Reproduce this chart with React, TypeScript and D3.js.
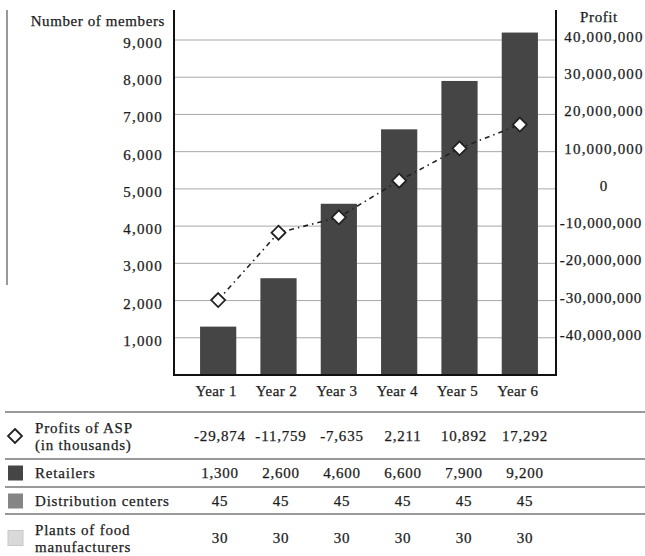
import * as d3 from "d3";

const years = ["Year 1", "Year 2", "Year 3", "Year 4", "Year 5", "Year 6"];
const retailers = [1300, 2600, 4600, 6600, 7900, 9200];
const profits = [-29874, -11759, -7635, 2211, 10892, 17292]; // thousands
const distCenters = [45, 45, 45, 45, 45, 45];
const plants = [30, 30, 30, 30, 30, 30];
const leftTicks = [1000, 2000, 3000, 4000, 5000, 6000, 7000, 8000, 9000];
const rightTicks = [40e6, 30e6, 20e6, 10e6, 0, -10e6, -20e6, -30e6, -40e6];

const W = 645;
const H = 556;
const FONT = "'Liberation Serif', 'DejaVu Serif', serif";
const BAR = "#454545";

// hyphen instead of the unicode minus, like the source
const fmt = (v: number) => d3.format(",")(v).replace("\u2212", "-");

export default function App() {
  const x = d3.scaleBand<string>().domain(years).range([188, 550]).paddingInner(0.4).paddingOuter(0.2);
  const y = d3.scaleLinear().domain([0, 9000]).range([375, 40]);
  const yR = d3.scaleLinear().domain([-50e6, 40e6]).range([375, 40]);
  const col = d3.scalePoint<string>().domain(years).range([220, 525]);

  const pts = profits.map((p, i) => [x(years[i])! + x.bandwidth() / 2, yR(p * 1000)] as [number, number]);
  const line = d3.line()(pts) ?? "";
  const diamond = (cx: number, cy: number, r: number) =>
    `M${cx},${cy - r}L${cx + r},${cy}L${cx},${cy + r}L${cx - r},${cy}Z`;

  const tableLines = [412, 459, 487, 514];
  const rows = [
    { label: ["Profits of ASP", "(in thousands)"], values: profits.map(fmt), cy: 436, icon: "diamond" },
    { label: ["Retailers"], values: retailers.map(fmt), cy: 473, icon: BAR },
    { label: ["Distribution centers"], values: distCenters.map(String), cy: 501, icon: "#858585" },
    { label: ["Plants of food", "manufacturers"], values: plants.map(String), cy: 538, icon: "#d9d9d9" },
  ];

  const txt = { fontSize: 15, fill: "#1c1c1c", stroke: "#1c1c1c", strokeWidth: 0.25 };

  return (
    <svg
      width={W}
      height={H}
      style={{ position: "absolute", left: 0, top: 0, background: "#fff" }}
      fontFamily={FONT}
    >
      {/* stray border on the left */}
      <line x1={7} x2={7} y1={10} y2={285} stroke="#777" strokeWidth={1.5} />

      {/* gridlines */}
      {leftTicks.map((t) => (
        <line key={t} x1={174} x2={556} y1={y(t)} y2={y(t)} stroke="#a8a8a8" strokeWidth={1} />
      ))}

      {/* bars */}
      {retailers.map((v, i) => (
        <rect key={i} x={x(years[i])} y={y(v)} width={x.bandwidth()} height={y(0) - y(v)} fill={BAR} />
      ))}

      {/* profit line */}
      <path d={line} fill="none" stroke="#222" strokeWidth={1.6} strokeDasharray="5,4,1.5,4" />
      {pts.map(([px, py], i) => (
        <path key={i} d={diamond(px, py, 7)} fill="#fff" stroke="#222" strokeWidth={1.8} />
      ))}

      {/* axes */}
      <line x1={174} x2={174} y1={10} y2={376} stroke="#111" strokeWidth={2} />
      <line x1={556} x2={556} y1={10} y2={376} stroke="#111" strokeWidth={2} />
      <line x1={173} x2={557} y1={375} y2={375} stroke="#111" strokeWidth={2} />

      <text x={165} y={26} textAnchor="end" letterSpacing={0.6} {...txt}>
        Number of members
      </text>
      {leftTicks.map((t) => (
        <text key={t} x={163} y={y(t) + 8} textAnchor="end" letterSpacing={1.2} {...txt}>
          {fmt(t)}
        </text>
      ))}

      <text x={599} y={22} textAnchor="middle" letterSpacing={0.6} {...txt}>
        Profit
      </text>
      {rightTicks.map((t) => (
        <text key={t} x={t < 0 ? 601 : 604} y={yR(t) + 2} textAnchor="middle" letterSpacing={t < 0 ? 0.9 : 1.2} {...txt}>
          {fmt(t)}
        </text>
      ))}

      {years.map((yr) => (
        <text key={yr} x={x(yr)! + x.bandwidth() / 2 - 2} y={396} textAnchor="middle" letterSpacing={0.4} {...txt}>
          {yr}
        </text>
      ))}

      {/* data table */}
      {tableLines.map((ly) => (
        <line key={ly} x1={5} x2={645} y1={ly} y2={ly} stroke="#999" strokeWidth={2} />
      ))}
      {rows.map((r, ri) => (
        <g key={ri}>
          {r.icon === "diamond" ? (
            <path d={diamond(15, r.cy, 7)} fill="#fff" stroke="#222" strokeWidth={1.8} />
          ) : (
            <rect x={8} y={r.cy - 7.5} width={15} height={15} fill={r.icon} stroke={r.icon === "#d9d9d9" ? "#c8c8c8" : "none"} />
          )}
          {r.label.map((t, li) => (
            <text
              key={li}
              x={35}
              y={r.cy + 5 + (r.label.length === 2 ? (li === 0 ? -8.5 : 8.5) : 0)}
              letterSpacing={0.8}
              {...txt}
            >
              {t}
            </text>
          ))}
          {r.values.map((v, i) => (
            <text key={i} x={col(years[i])} y={r.cy + 5} textAnchor="middle" letterSpacing={0.8} {...txt}>
              {v}
            </text>
          ))}
        </g>
      ))}
    </svg>
  );
}
